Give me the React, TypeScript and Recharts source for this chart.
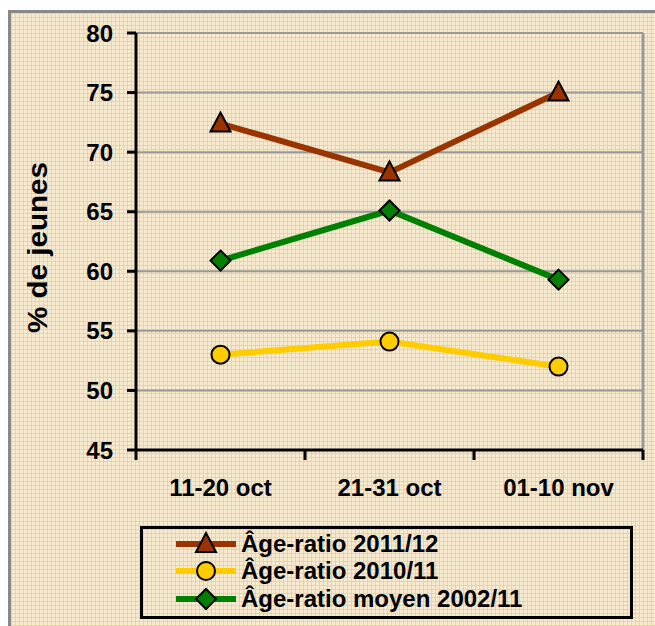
import {
  LineChart,
  Line,
  XAxis,
  YAxis,
  CartesianGrid,
  Legend,
  ReferenceLine,
} from 'recharts';

const categories = ['11-20 oct', '21-31 oct', '01-10 nov'];
const ageRatio2011 = [72.4, 68.3, 75.0];
const ageRatio2010 = [53.0, 54.1, 52.0];
const ageRatioMoyen = [60.9, 65.1, 59.3];
const yTicks = [45, 50, 55, 60, 65, 70, 75, 80];
const seriesNames = ['Âge-ratio 2011/12', 'Âge-ratio 2010/11', 'Âge-ratio moyen 2002/11'];

const FONT = 'Arial, "Liberation Sans", sans-serif';
const BROWN = '#993300';
const YELLOW = '#FFCC00';
const GREEN = '#008000';

const data = categories.map((label, i) => ({
  pos: i + 0.5,
  label,
  a: ageRatio2011[i],
  b: ageRatio2010[i],
  c: ageRatioMoyen[i],
}));

// boundaries get a tick mark, band centres get the label
const xTicks = [...categories.flatMap((_, i) => [i, i + 0.5]), categories.length];

function marker(kind: number, cx: number, cy: number, key?: any) {
  if (kind === 0) {
    return (
      <path
        key={key}
        d={`M${cx},${cy - 11} L${cx + 10},${cy + 8} L${cx - 10},${cy + 8} Z`}
        fill={BROWN}
        stroke="#000"
        strokeWidth={2}
      />
    );
  }
  if (kind === 1) {
    return <circle key={key} cx={cx} cy={cy} r={9} fill={YELLOW} stroke="#000" strokeWidth={2} />;
  }
  return (
    <path
      key={key}
      d={`M${cx},${cy - 10} L${cx + 10},${cy} L${cx},${cy + 10} L${cx - 10},${cy} Z`}
      fill={GREEN}
      stroke="#000"
      strokeWidth={2}
    />
  );
}

const XTick = (props: any) => {
  const { x, y, payload } = props;
  const v = payload.value;
  if (Number.isInteger(v)) {
    return <line x1={x} x2={x} y1={y - 8} y2={y + 2} stroke="#000" strokeWidth={3} />;
  }
  return (
    <text x={x} y={y + 38} textAnchor="middle" fill="#000" fontSize={24} fontWeight="bold" fontFamily={FONT}>
      {categories[Math.floor(v)]}
    </text>
  );
};

const YLabel = () => (
  <text
    x={37.5}
    y={247.5}
    transform="rotate(-90, 37.5, 247.5)"
    textAnchor="middle"
    dominantBaseline="central"
    fill="#000"
    fontSize={27}
    fontWeight="bold"
    fontFamily={FONT}
    textLength={171}
    lengthAdjust="spacingAndGlyphs"
  >
    % de jeunes
  </text>
);

const renderLegend = (props: any) => {
  const payload = [...(props.payload || [])].sort(
    (p: any, q: any) => seriesNames.indexOf(p.value) - seriesNames.indexOf(q.value),
  );
  return (
    <div
      style={{
        border: '3px solid #000',
        boxSizing: 'border-box',
        height: 93,
        paddingLeft: 33,
        paddingTop: 1,
        fontFamily: FONT,
      }}
    >
      {payload.map((entry: any, i: number) => (
        <div key={i} style={{ display: 'flex', alignItems: 'center', height: 27.5 }}>
          <svg width={62} height={26} style={{ marginRight: 3 }}>
            <line x1={0} x2={60} y1={13} y2={13} stroke={entry.color} strokeWidth={6} />
            {marker(seriesNames.indexOf(entry.value), 30, 13)}
          </svg>
          <span style={{ fontSize: 24, fontWeight: 'bold', color: '#000', whiteSpace: 'nowrap' }}>
            {entry.value}
          </span>
        </div>
      ))}
    </div>
  );
};

export default function App() {
  return (
    <div
      style={{
        position: 'absolute',
        left: 0,
        top: 0,
        width: 655,
        height: 626,
        overflow: 'hidden',
        background: '#fff',
      }}
    >
      <div
        style={{
          position: 'absolute',
          left: 8,
          top: 10,
          right: 0,
          bottom: 0,
          borderLeft: '3px solid #888',
          borderTop: '3px solid #888',
          backgroundColor: '#F8EACF',
          backgroundImage:
            'linear-gradient(to right, #EBD29E 1px, transparent 1px), linear-gradient(to bottom, #EBD29E 1px, transparent 1px)',
          backgroundSize: '4px 4px',
        }}
      />
      <div style={{ position: 'absolute', left: 0, top: 0 }}>
        <LineChart width={655} height={626} data={data} margin={{ top: 33, right: 12, left: 0, bottom: 0 }}>
          <CartesianGrid vertical={false} stroke="#999" strokeWidth={2} />
          <ReferenceLine x={categories.length} stroke="#999" strokeWidth={3} />
          <XAxis
            dataKey="pos"
            type="number"
            domain={[0, categories.length]}
            ticks={xTicks}
            interval={0}
            tickLine={false}
            axisLine={{ stroke: '#000', strokeWidth: 3 }}
            tick={<XTick />}
            height={83}
          />
          <YAxis
            type="number"
            domain={[45, 80]}
            ticks={yTicks}
            interval={0}
            width={136}
            tickSize={9}
            tickMargin={14}
            axisLine={{ stroke: '#000', strokeWidth: 3 }}
            tickLine={{ stroke: '#000', strokeWidth: 3 }}
            tick={{ fill: '#000', fontSize: 24, fontWeight: 'bold', fontFamily: FONT }}
            label={<YLabel />}
          />
          <Legend
            verticalAlign="bottom"
            wrapperStyle={{ left: 140, width: 493, bottom: 7 }}
            content={renderLegend}
          />
          <Line
            name={seriesNames[0]}
            dataKey="a"
            stroke={BROWN}
            strokeWidth={6}
            isAnimationActive={false}
            dot={(p: any) => marker(0, p.cx, p.cy, p.index)}
          />
          <Line
            name={seriesNames[1]}
            dataKey="b"
            stroke={YELLOW}
            strokeWidth={6}
            isAnimationActive={false}
            dot={(p: any) => marker(1, p.cx, p.cy, p.index)}
          />
          <Line
            name={seriesNames[2]}
            dataKey="c"
            stroke={GREEN}
            strokeWidth={6}
            isAnimationActive={false}
            dot={(p: any) => marker(2, p.cx, p.cy, p.index)}
          />
        </LineChart>
      </div>
    </div>
  );
}
